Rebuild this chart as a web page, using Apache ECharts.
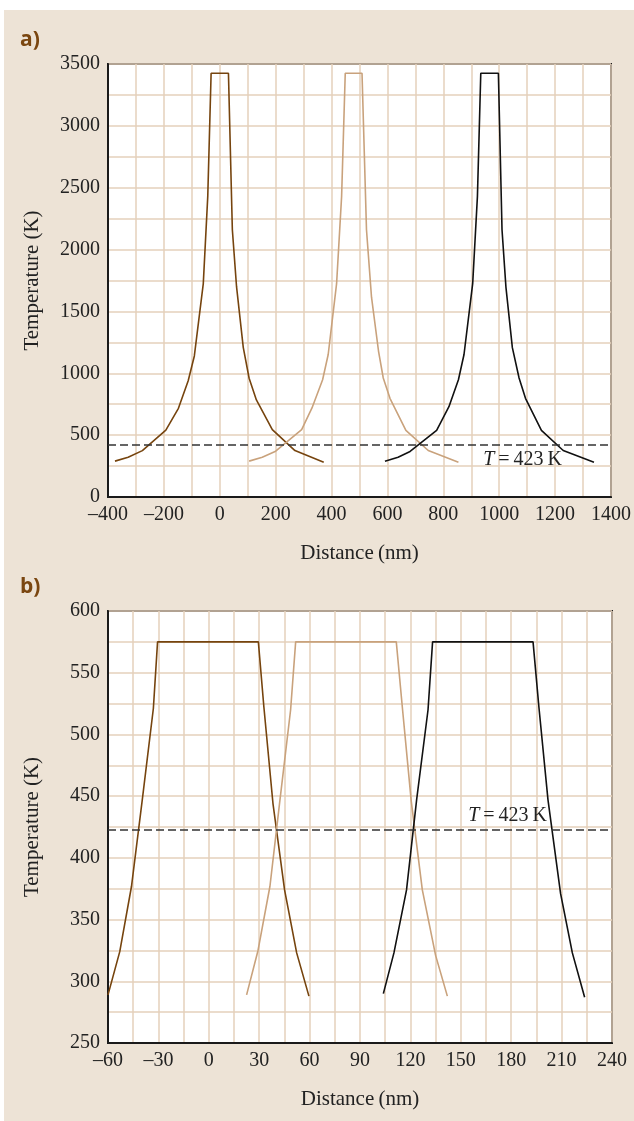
<!DOCTYPE html>
<html>
<head>
<meta charset="utf-8">
<script src="https://cdn.jsdelivr.net/npm/echarts@6/dist/echarts.min.js"></script>
<style>
  html, body { margin: 0; padding: 0; background: #fff; }
  #chart { position: absolute; left: 4px; top: 10px; width: 630px; height: 1111px; }
</style>
</head>
<body>
<div id="chart"></div>
<script>
// panel a) : full profile, distance (nm) / temperature (K)
const topBrown = [[-375, 290], [-328, 322], [-277, 375], [-193, 540], [-148, 717], [-113, 940], [-91, 1140],
  [-59, 1725], [-43, 2430], [-31, 3425], [31, 3425], [45, 2160], [60, 1700], [84, 1210], [105, 960],
  [131, 785], [188, 545], [269, 375], [372, 280]];
const topTan = [[105, 290], [152, 322], [200, 370], [293, 545], [330, 720], [368, 948], [388, 1152],
  [418, 1724], [436, 2430], [449, 3425], [509, 3425], [525, 2160], [543, 1615], [568, 1180], [585, 962],
  [609, 798], [666, 539], [746, 376], [854, 281]];
const topBlack = [[591, 289], [638, 322], [681, 368], [776, 539], [820, 730], [854, 948], [874, 1152],
  [905, 1724], [922, 2430], [934, 3425], [997, 3425], [1010, 2160], [1024, 1697], [1047, 1207],
  [1071, 962], [1094, 798], [1151, 539], [1229, 376], [1339, 281]];

// panel b) : zoom on the lower part
const botBrown = [[-60, 289], [-53, 324], [-46, 377], [-39.6, 447], [-33, 521], [-30.5, 575],
  [29.5, 575], [32.8, 522], [38.2, 444], [45.1, 374], [52.3, 323], [59.6, 288]];
const botTan = [[22.5, 289], [29.3, 325], [36.4, 377], [42.1, 444], [48.7, 520], [51.7, 575],
  [111.6, 575], [115.2, 522], [120.5, 446], [127.1, 374], [135, 321], [142, 288]];
const botBlack = [[103.9, 290], [110.2, 323], [117.7, 374], [123.7, 447], [130.5, 520], [133.2, 575],
  [193, 575], [196.5, 522], [201.9, 447], [209.4, 371], [216.4, 323], [223.7, 287]];

const thresholdK = 423;

const serif = 'Liberation Serif';
const gridColor = '#e4d1bb';

function dash(v) {
  return v < 0 ? '\u2013' + Math.abs(v) : String(v);
}

function xAxisOf(idx, min, max, step, labelStep) {
  return {
    gridIndex: idx, type: 'value', min: min, max: max, interval: step,
    name: 'Distance\u2009(nm)', nameLocation: 'middle', nameGap: 46,
    nameTextStyle: { fontFamily: serif, fontSize: 21, color: '#222' },
    axisLine: { show: true, onZero: false, lineStyle: { color: '#1a1a1a', width: 2 } },
    axisTick: { show: false },
    axisLabel: {
      margin: 8, fontFamily: serif, fontSize: 20, color: '#222',
      formatter: v => (Math.round(v - min) % labelStep === 0 ? dash(v) : '')
    },
    splitLine: { show: true, lineStyle: { color: gridColor, width: 1.5 } }
  };
}

function yAxisOf(idx, min, max, step, labelStep) {
  return {
    gridIndex: idx, type: 'value', min: min, max: max, interval: step,
    name: 'Temperature (K)', nameLocation: 'middle', nameGap: 65, nameRotate: 90,
    nameTextStyle: { fontFamily: serif, fontSize: 21, color: '#222' },
    axisLine: { show: true, onZero: false, lineStyle: { color: '#1a1a1a', width: 2 } },
    axisTick: { show: false },
    axisLabel: {
      margin: 8, fontFamily: serif, fontSize: 20, color: '#222',
      formatter: v => (Math.round(v - min) % labelStep === 0 ? String(v) : '')
    },
    splitLine: { show: true, lineStyle: { color: gridColor, width: 1.5 } }
  };
}

function curve(idx, data, color) {
  return {
    type: 'line', xAxisIndex: idx, yAxisIndex: idx, data: data,
    showSymbol: false, symbol: 'none', silent: true,
    lineStyle: { color: color, width: 1.6 }
  };
}

function threshold(position, distance) {
  return {
    silent: true, symbol: 'none',
    lineStyle: { color: '#333', type: [8, 4], width: 1.5 },
    label: {
      show: true, position: position, distance: distance,
      formatter: '{i|T}{n|\u2009=\u2009423\u2009K}',
      rich: {
        i: { fontFamily: serif, fontStyle: 'italic', fontSize: 20, color: '#222' },
        n: { fontFamily: serif, fontSize: 20, color: '#222' }
      }
    },
    data: [{ yAxis: thresholdK }]
  };
}

const chart = echarts.init(document.getElementById('chart'));

const s0 = curve(0, topBrown, '#76440e');
s0.markLine = threshold('insideEndBottom', [49, 5]);
const s3 = curve(1, botBrown, '#76440e');
s3.markLine = threshold('insideEndTop', [65, 4]);

chart.setOption({
  animation: false,
  backgroundColor: '#ede3d6',
  grid: [
    { left: 104, top: 54, width: 504, height: 433, show: true, backgroundColor: '#fff', borderColor: '#1a1a1a', borderWidth: 2 },
    { left: 104, top: 601, width: 504, height: 432, show: true, backgroundColor: '#fff', borderColor: '#1a1a1a', borderWidth: 2 }
  ],
  xAxis: [
    xAxisOf(0, -400, 1400, 100, 200),
    xAxisOf(1, -60, 240, 15, 30)
  ],
  yAxis: [
    yAxisOf(0, 0, 3500, 250, 500),
    yAxisOf(1, 250, 600, 25, 50)
  ],
  graphic: [
    { type: 'text', left: 16, top: 20, style: { text: 'a)', font: 'bold 21px "Open Sans"', fill: '#7a4610' } },
    { type: 'text', left: 16, top: 567, style: { text: 'b)', font: 'bold 21px "Open Sans"', fill: '#7a4610' } }
  ],
  series: [
    s0,
    curve(0, topTan, '#c9a27c'),
    curve(0, topBlack, '#111111'),
    s3,
    curve(1, botTan, '#c9a27c'),
    curve(1, botBlack, '#111111')
  ]
});
</script>
</body>
</html>
